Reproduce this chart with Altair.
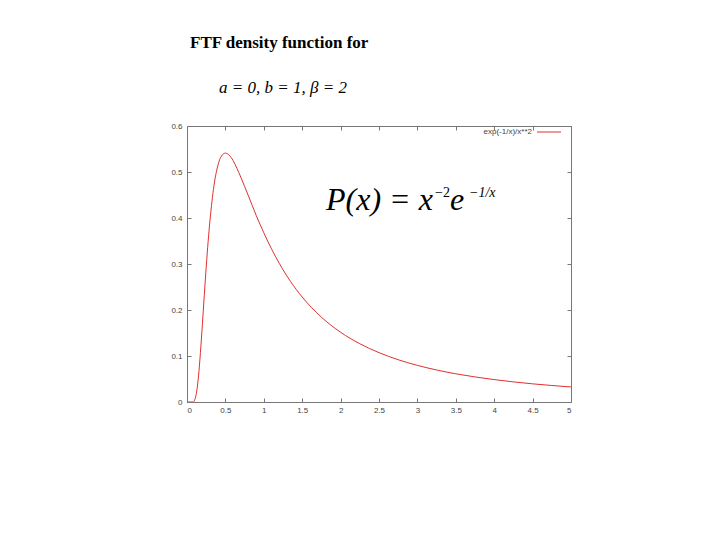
import altair as alt
import pandas as pd

# values
xs = [0.0, 0.05, 0.08, 0.1, 0.125, 0.15, 0.175, 0.2, 0.225, 0.25, 0.275, 0.3, 0.35, 0.4, 0.45, 0.5,
      0.55, 0.6, 0.65, 0.7, 0.75, 0.8, 0.9, 1.0, 1.1, 1.2, 1.25, 1.35, 1.5, 1.75, 2.0, 2.25, 2.5,
      2.75, 3.0, 3.25, 3.5, 3.75, 4.0, 4.25, 4.5, 4.75, 5.0]
ys = [0.0, 0.0, 0.0, 0.0045, 0.0215, 0.0566, 0.1077, 0.168, 0.232, 0.293, 0.3486, 0.396, 0.469, 0.513, 0.535, 0.541,
      0.5365, 0.525, 0.508, 0.489, 0.4686, 0.448, 0.406, 0.3679, 0.333, 0.3018, 0.2876, 0.2616, 0.2282, 0.1844, 0.1516, 0.1267, 0.1073,
      0.0919, 0.0796, 0.0696, 0.0613, 0.0545, 0.0487, 0.04375, 0.0395, 0.0359, 0.0327]

x_ticks = [0, 0.5, 1, 1.5, 2, 2.5, 3, 3.5, 4, 4.5, 5]
y_ticks = [0, 0.1, 0.2, 0.3, 0.4, 0.5, 0.6]

title_text = "FTF density function for"
params_text = "a = 0, b = 1, β = 2"
legend_label = "exp(-1/x)/x**2"

df = pd.DataFrame({"x": xs, "y": ys})

AX = "#777777"
LBL = "#444444"
RED = "#e03030"

xscale = alt.Scale(domain=[0, 5], nice=False, zero=False)
yscale = alt.Scale(domain=[0, 0.6], nice=False)

line = alt.Chart(df).mark_line(color=RED, strokeWidth=1, interpolate="monotone", clip=True).encode(
    x=alt.X("x:Q", scale=xscale, axis=alt.Axis(
        orient="bottom", values=x_ticks, format="~g", title=None, grid=False, domain=False,
        offset=-4, tickSize=4, tickColor=AX, labelPadding=4, labelFont="Liberation Sans",
        labelFontSize=8, labelColor=LBL)),
    y=alt.Y("y:Q", scale=yscale, axis=alt.Axis(
        orient="left", values=y_ticks, format="~g", title=None, grid=False, domain=False,
        offset=-4, tickSize=4, tickColor=AX, labelPadding=5, labelFont="Liberation Sans",
        labelFontSize=8, labelColor=LBL)),
)

mirror = alt.Chart(df).mark_line(opacity=0).encode(
    x=alt.X("x:Q", scale=xscale, axis=alt.Axis(
        orient="top", values=x_ticks, title=None, grid=False, domain=False, labels=False,
        offset=-4, tickSize=4, tickColor=AX)),
    y=alt.Y("y:Q", scale=yscale, axis=alt.Axis(
        orient="right", values=y_ticks, title=None, grid=False, domain=False, labels=False,
        offset=-4, tickSize=4, tickColor=AX)),
)

def txt(s, x, y, size, style="normal", weight="normal", font="Liberation Serif", align="left", baseline="alphabetic", color="black"):
    return alt.Chart(pd.DataFrame({"t": [s]})).mark_text(
        font=font, fontSize=size, fontStyle=style, fontWeight=weight, align=align, baseline=baseline, color=color
    ).encode(text="t:N", x=alt.value(x), y=alt.value(y))

title = txt(title_text, 3, -78, 17, weight="bold")
params = txt(params_text, 32, -33, 17, style="italic")
f1 = txt("P(x) = x", 139, 84, 32, style="italic")
f2 = txt("−2", 248, 71, 14)
f3 = txt("e", 263, 84, 32, style="italic")
f4 = txt("−1/x", 282, 71, 14, style="italic")

leg_text = txt(legend_label, 345, 6, 8, font="Liberation Sans", align="right", baseline="middle", color=LBL)
leg_line = alt.Chart(pd.DataFrame({"t": [0]})).mark_rule(color=RED, strokeWidth=1).encode(
    x=alt.value(350), x2=alt.value(374), y=alt.value(6))

chart = alt.layer(line, mirror, title, params, f1, f2, f3, f4, leg_text, leg_line).resolve_axis(
    x="independent", y="independent"
).properties(
    width=384, height=276,
    autosize=alt.AutoSizeParams(type="none"),
    padding={"left": 179, "top": 118, "right": 100, "bottom": 100},
    background="white",
).configure_view(stroke=AX, strokeWidth=1)

chart.save("out.html", embed_options={"renderer": "svg", "actions": False})
